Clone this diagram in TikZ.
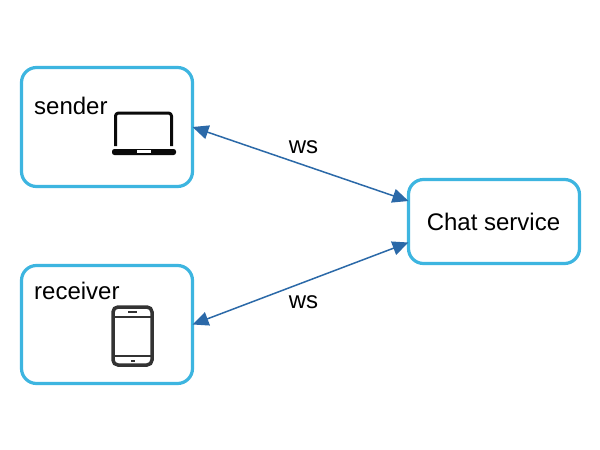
\documentclass[tikz,border=0pt]{standalone}
\usepackage{fontspec}
\setmainfont{Liberation Sans}
\usetikzlibrary{arrows.meta}
\definecolor{boxblue}{HTML}{3DB5E0}
\definecolor{linkblue}{HTML}{2B69A8}
\definecolor{iconblack}{HTML}{0A0A0A}
\definecolor{icongray}{HTML}{333333}
\tikzset{
  x=1pt,y=-1pt,
  roundbox/.style={draw=boxblue,line width=3.2pt,rounded corners=15pt,fill=white,inner sep=0pt,outer sep=0pt,anchor=center},
  lbl/.style={font=\fontsize{24}{28}\selectfont,text=black,inner sep=0pt},
  link/.style={draw=linkblue,line width=1.5pt,{Triangle[length=16pt,width=14pt]}-{Triangle[length=16pt,width=14pt]}},
  laptopline/.style={draw=iconblack,line width=3pt,line join=round},
  phoneline/.style={draw=icongray,line width=3.5pt}
}
\begin{document}
\begin{tikzpicture}
\useasboundingbox (0,0) rectangle (600,450);
\fill[white] (0,0) rectangle (600,450);
\node[roundbox,minimum width=171pt,minimum height=119pt] (sender) at (107,127) {};
\node[roundbox,minimum width=171pt,minimum height=118pt] (receiver) at (107,324.5) {};
\node[roundbox,minimum width=171pt,minimum height=84pt] (chat) at (494,221.5) {};
\node[lbl,anchor=base west] (sendert) at (34,114) {sender};
\node[lbl,anchor=base west] (receivert) at (34,299) {receiver};
\node[lbl] (chatt) at (493.5,222) {Chat service};
\draw[link] (sender.east) -- ([yshift=20.5pt]chat.west) node[pos=0.5,lbl,yshift=17pt,xshift=3pt] (ws1) {ws};
\draw[link] (receiver.east) -- ([yshift=-21pt]chat.west) node[pos=0.5,lbl,yshift=-19pt,xshift=3pt] (ws2) {ws};
% laptop
\draw[laptopline,rounded corners=3pt] (115.5,146) -- (115.5,113) -- (171.5,113) -- (171.5,146);
\fill[iconblack,rounded corners=2.4pt] (112,149) rectangle (176,155);
\fill[white] (137,150) rectangle (151,153);
% phone
\draw[phoneline,rounded corners=5pt] (113,307) rectangle (152,365);
\draw[icongray,line width=2.2pt] (113,317) -- (152,317) (113,356) -- (152,356);
\fill[icongray] (128,311) rectangle (137,313.2);
\fill[icongray] (130.5,359.5) rectangle (135,362);
\end{tikzpicture}
\end{document}
